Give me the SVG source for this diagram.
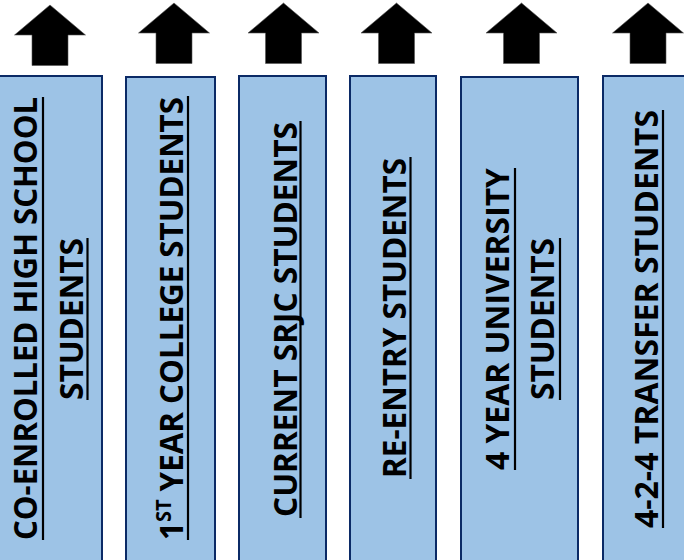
<svg xmlns="http://www.w3.org/2000/svg" width="684" height="560" viewBox="0 0 684 560">
<style>
.box{fill:#9DC3E6;stroke:#0B2A66;stroke-width:2}
.arrow{fill:#000;stroke:#555;stroke-width:0.6}
.lbl{font-family:"Open Sans",Lato,"Liberation Sans",sans-serif;font-weight:bold;font-size:33px;fill:#000;text-anchor:middle}
.ul{stroke:#000;stroke-width:2.2}
</style>
<defs>
<path id="up" d="M0,0 L35.5,30 L18,30 L18,60.5 L-18,60.5 L-18,30 L-35.5,30 Z"/>
</defs>
<rect width="684" height="560" fill="#fff"/>
<g id="connectors">
<use href="#up" class="arrow" x="50" y="5"/>
<use href="#up" class="arrow" x="174" y="3"/>
<use href="#up" class="arrow" x="283.5" y="3"/>
<use href="#up" class="arrow" x="396.5" y="3"/>
<use href="#up" class="arrow" x="521.5" y="3"/>
<use href="#up" class="arrow" x="648" y="3"/>
</g>
<g id="node1">
<rect class="box" x="-1" y="76" width="103" height="490"/>
<text class="lbl" transform="translate(37,318.5) rotate(-90)" textLength="443" lengthAdjust="spacingAndGlyphs">CO-ENROLLED HIGH SCHOOL</text>
<line class="ul" x1="43" y1="97" x2="43" y2="540"/>
<text class="lbl" transform="translate(83,319) rotate(-90)" textLength="162" lengthAdjust="spacingAndGlyphs">STUDENTS</text>
<line class="ul" x1="87.5" y1="238" x2="87.5" y2="400"/>
</g>
<g id="node2">
<rect class="box" x="126" y="77" width="89" height="490"/>
<text class="lbl" transform="translate(183,318.5) rotate(-90)" textLength="443" lengthAdjust="spacingAndGlyphs">1<tspan font-size="21" dy="-12">ST</tspan><tspan dy="12"> YEAR COLLEGE STUDENTS</tspan></text>
<line class="ul" x1="188" y1="96" x2="188" y2="540"/>
</g>
<g id="node3">
<rect class="box" x="239" y="76" width="87" height="490"/>
<text class="lbl" transform="translate(297,319.5) rotate(-90)" textLength="395" lengthAdjust="spacingAndGlyphs">CURRENT SRJC STUDENTS</text>
<line class="ul" x1="300.5" y1="121" x2="300.5" y2="518"/>
</g>
<g id="node4">
<rect class="box" x="350" y="76" width="86" height="490"/>
<text class="lbl" transform="translate(406,318) rotate(-90)" textLength="320" lengthAdjust="spacingAndGlyphs">RE-ENTRY STUDENTS</text>
<line class="ul" x1="410.5" y1="157" x2="410.5" y2="479"/>
</g>
<g id="node5">
<rect class="box" x="461" y="77" width="117" height="490"/>
<text class="lbl" transform="translate(509,319) rotate(-90)" textLength="302" lengthAdjust="spacingAndGlyphs">4 YEAR UNIVERSITY</text>
<line class="ul" x1="515" y1="168" x2="515" y2="470"/>
<text class="lbl" transform="translate(554,319) rotate(-90)" textLength="162" lengthAdjust="spacingAndGlyphs">STUDENTS</text>
<line class="ul" x1="560" y1="238" x2="560" y2="400"/>
</g>
<g id="node6">
<rect class="box" x="603" y="76" width="90" height="490"/>
<text class="lbl" transform="translate(658,319) rotate(-90)" textLength="418" lengthAdjust="spacingAndGlyphs">4-2-4 TRANSFER STUDENTS</text>
<line class="ul" x1="663" y1="110" x2="663" y2="528"/>
</g>
</svg>
